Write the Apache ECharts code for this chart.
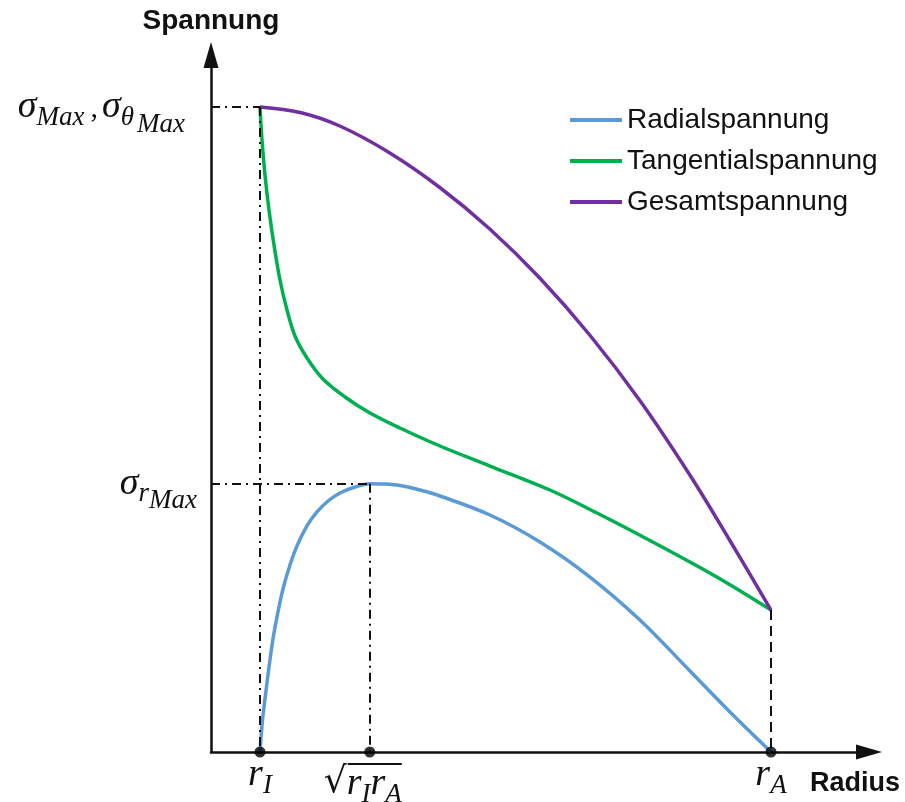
<!DOCTYPE html>
<html>
<head>
<meta charset="utf-8">
<script src="https://cdn.jsdelivr.net/npm/echarts@6/dist/echarts.min.js"></script>
<style>
  html, body { margin: 0; padding: 0; background: #fff; }
  #chart { width: 905px; height: 802px; }
</style>
</head>
<body>
<div id="chart"></div>
<script>
// Characteristic radii (inner, geometric mean, outer)
const rInner = 10;
const rMid = 32.4;
const rOuter = 114.3;

// Characteristic stresses
const sigmaMax = 100;
const sigmaRMax = 41.6;
const sigmaOuter = 22.0;

// Axis extents
const xMax = 134.3;
const yMax = 108.06;

// Stress curves as [radius, stress]
const radialPts = [
  [10, 0], [10.51, 4.96], [11.12, 8.84], [11.84, 13.18], [12.65, 17.52], [13.67, 21.71],
  [14.69, 25.27], [16.12, 28.99], [17.55, 31.94], [19.59, 35.04], [21.63, 37.21],
  [23.88, 38.91], [26.33, 40.16], [29.39, 41.09], [32.4, 41.6], [35.51, 41.55],
  [38.57, 41.32], [42.65, 40.62], [46.73, 39.69], [56.94, 36.74], [67.14, 32.56],
  [77.35, 27.13], [87.55, 20.47], [97.76, 12.56], [105.92, 6.2], [114.3, 0]
];
const tangentialPts = [
  [10, 100], [10.41, 94.88], [11.02, 89.46], [11.84, 84.03], [12.86, 78.60],
  [14.08, 73.18], [15.51, 68.53], [17.14, 64.50], [19.59, 61.09], [22.86, 57.83],
  [27.35, 55.04], [32.45, 52.56], [38.57, 50.23], [46.73, 47.44], [56.94, 44.34],
  [69.18, 40.62], [79.39, 36.82], [89.59, 32.79], [99.80, 28.60], [106.53, 25.66],
  [114.3, 22.0]
];
const totalPts = [
  [10, 100], [18.2, 99.15], [26.3, 97.05], [36.5, 92.87], [46.7, 87.52], [56.9, 81.09],
  [67.1, 73.49], [77.3, 64.65], [87.6, 54.42], [97.8, 42.87], [105.9, 32.79], [114.3, 22.0]
];

const seriesNames = ['Radialspannung', 'Tangentialspannung', 'Gesamtspannung'];
const seriesColors = ['#5B9BD5', '#00B050', '#7030A0'];

const mathFont = "'Liberation Serif', 'DejaVu Serif', serif";
const textFont = "'Liberation Sans', Arial, sans-serif";

const ink = '#111';
const mathRich = {
  s:    { fontFamily: mathFont, fontStyle: 'italic', fontSize: 38, lineHeight: 38, verticalAlign: 'top', color: ink },
  c:    { fontFamily: mathFont, fontSize: 30, lineHeight: 30, verticalAlign: 'top', padding: [6, 4, 0, 6], color: ink },
  sub:  { fontFamily: mathFont, fontStyle: 'italic', fontSize: 27, lineHeight: 27, verticalAlign: 'top', padding: [16, 0, 0, 0], color: ink },
  sub2: { fontFamily: mathFont, fontStyle: 'italic', fontSize: 27, lineHeight: 27, verticalAlign: 'top', padding: [23, 0, 0, 0], color: ink },
  subE: { fontFamily: mathFont, fontStyle: 'italic', fontSize: 27, lineHeight: 27, verticalAlign: 'top', padding: [23, 12, 0, 3], color: ink },
  sq:   { fontFamily: "'DejaVu Serif', serif", fontSize: 36, lineHeight: 36, verticalAlign: 'top', color: ink },
  vs:   { width: 2, height: 7, lineHeight: 7 },
  gap:  { width: 24, height: 2, lineHeight: 2 },
  bar:  { width: 54, height: 2, lineHeight: 2, backgroundColor: ink },
  tail: { width: 14, height: 2, lineHeight: 2 },
  pad:  { width: 14, height: 10, lineHeight: 10 }
};

function yLabel(v) {
  if (v === sigmaMax) return '{s|σ}{sub|Max}{c|,}{s|σ}{sub|θ}{subE|Max}';
  if (v === sigmaRMax) return '{s|σ}{sub|r}{sub2|Max}';
  return '';
}
function xLabel(v) {
  if (v === rInner) return '{s|r}{sub|I}';
  if (v === rMid) return '{vs| }\n{gap| }{bar| }{tail| }\n{sq|√}{s|r}{sub|I}{s|r}{sub|A}{pad| }';
  if (v === rOuter) return '{s|r}{sub|A}';
  return '';
}

const dashDot = [9, 5, 2, 5];
const guideLines = [
  [{ coord: [0, sigmaMax] }, { coord: [rInner, sigmaMax] }],
  [{ coord: [rInner, sigmaMax] }, { coord: [rInner, 0] }],
  [{ coord: [0, sigmaRMax] }, { coord: [rMid, sigmaRMax] }],
  [{ coord: [rMid, sigmaRMax] }, { coord: [rMid, 0] }],
  [{ coord: [rOuter, sigmaOuter] }, { coord: [rOuter, 0], lineStyle: { type: [10, 6] } }]
];

const curveSmooth = 0.35;

const chart = echarts.init(document.getElementById('chart'), null, { renderer: 'canvas' });

chart.setOption({
  animation: false,
  backgroundColor: '#fff',
  grid: { left: 211, right: 36, top: 55, bottom: 50, containLabel: false, outerBoundsMode: 'none' },
  legend: {
    data: seriesNames,
    orient: 'vertical',
    left: 565,
    top: 101,
    icon: 'rect',
    itemWidth: 52,
    itemHeight: 4,
    itemGap: 13,
    textStyle: { fontFamily: textFont, fontSize: 28, lineHeight: 28, color: ink }
  },
  xAxis: {
    type: 'value',
    min: 0,
    max: xMax,
    name: 'Radius',
    nameLocation: 'end',
    nameGap: -14,
    nameTextStyle: { fontFamily: textFont, fontWeight: 'bold', fontSize: 27, color: ink, align: 'center', verticalAlign: 'top', padding: [18, 0, 0, 0] },
    axisLine: { show: true, symbol: ['none', 'triangle'], symbolSize: [15, 26], lineStyle: { color: ink, width: 2.5 } },
    axisTick: { show: false },
    splitLine: { show: false },
    axisLabel: { customValues: [rInner, rMid, rOuter], formatter: xLabel, rich: mathRich, margin: 4, align: 'center' }
  },
  yAxis: {
    type: 'value',
    min: 0,
    max: yMax,
    name: 'Spannung',
    nameLocation: 'end',
    nameGap: 20,
    nameTextStyle: { fontFamily: textFont, fontWeight: 'bold', fontSize: 28, color: ink, align: 'center', verticalAlign: 'bottom' },
    axisLine: { show: true, symbol: ['none', 'triangle'], symbolSize: [15, 26], lineStyle: { color: ink, width: 2.5 } },
    axisTick: { show: false },
    splitLine: { show: false },
    axisLabel: { customValues: [sigmaRMax, sigmaMax], formatter: yLabel, rich: mathRich, margin: 14 }
  },
  series: [
    {
      name: 'guides',
      type: 'line',
      data: [],
      z: 1,
      silent: true,
      markLine: {
        silent: true,
        symbol: 'none',
        label: { show: false },
        lineStyle: { color: ink, width: 2, type: dashDot },
        data: guideLines
      }
    },
    {
      name: seriesNames[0], type: 'line', data: radialPts, smooth: curveSmooth, showSymbol: false, symbol: 'none',
      z: 3, lineStyle: { color: seriesColors[0], width: 3.5 }, itemStyle: { color: seriesColors[0] }
    },
    {
      name: seriesNames[1], type: 'line', data: tangentialPts, smooth: curveSmooth, showSymbol: false, symbol: 'none',
      z: 3, lineStyle: { color: seriesColors[1], width: 3.5 }, itemStyle: { color: seriesColors[1] }
    },
    {
      name: seriesNames[2], type: 'line', data: totalPts, smooth: curveSmooth, showSymbol: false, symbol: 'none',
      z: 4, lineStyle: { color: seriesColors[2], width: 3.5 }, itemStyle: { color: seriesColors[2] }
    },
    {
      name: 'marks',
      type: 'scatter',
      data: [[rInner, 0], [rMid, 0], [rOuter, 0]],
      symbolSize: 11,
      itemStyle: { color: '#000' },
      z: 10,
      clip: false,
      silent: true
    }
  ]
});
</script>
</body>
</html>
